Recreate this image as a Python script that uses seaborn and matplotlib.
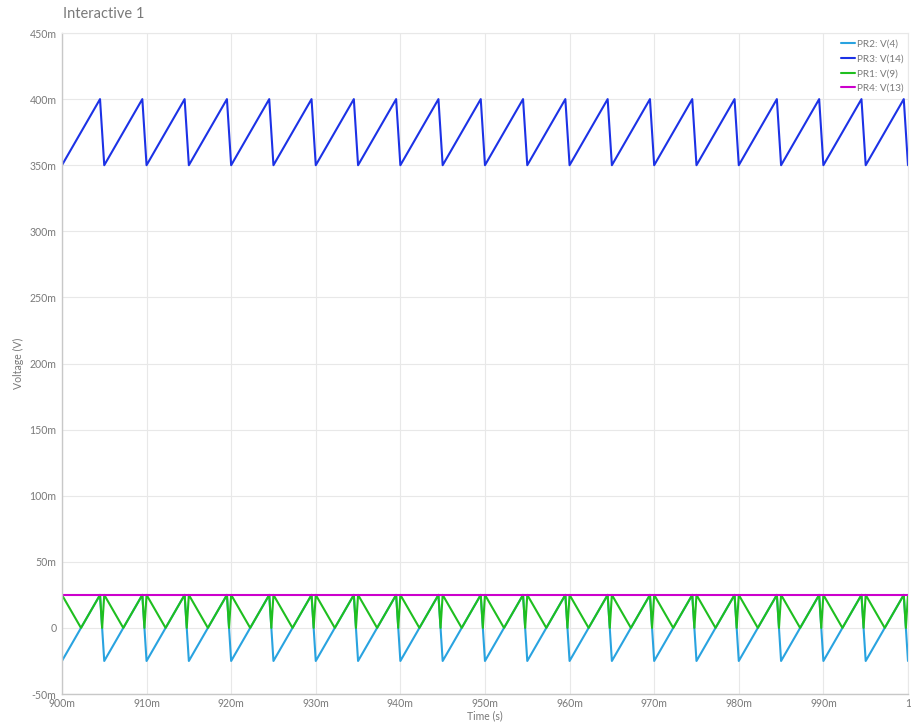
import pandas as pd
import matplotlib.pyplot as plt
import seaborn as sns

# Time axis in ms, voltages in mV
t_saw = [900, 904.5, 905, 909.5, 910, 914.5, 915, 919.5, 920, 924.5,
         925, 929.5, 930, 934.5, 935, 939.5, 940, 944.5, 945, 949.5,
         950, 954.5, 955, 959.5, 960, 964.5, 965, 969.5, 970, 974.5,
         975, 979.5, 980, 984.5, 985, 989.5, 990, 994.5, 995, 999.5, 1000]
pr3_v14 = [350, 400, 350, 400, 350, 400, 350, 400, 350, 400,
           350, 400, 350, 400, 350, 400, 350, 400, 350, 400,
           350, 400, 350, 400, 350, 400, 350, 400, 350, 400,
           350, 400, 350, 400, 350, 400, 350, 400, 350, 400, 350]
pr2_v4 = [-25, 25, -25, 25, -25, 25, -25, 25, -25, 25,
          -25, 25, -25, 25, -25, 25, -25, 25, -25, 25,
          -25, 25, -25, 25, -25, 25, -25, 25, -25, 25,
          -25, 25, -25, 25, -25, 25, -25, 25, -25, 25, -25]

t_rect = [900, 902.25, 904.5, 904.75, 905, 907.25, 909.5, 909.75,
          910, 912.25, 914.5, 914.75, 915, 917.25, 919.5, 919.75,
          920, 922.25, 924.5, 924.75, 925, 927.25, 929.5, 929.75,
          930, 932.25, 934.5, 934.75, 935, 937.25, 939.5, 939.75,
          940, 942.25, 944.5, 944.75, 945, 947.25, 949.5, 949.75,
          950, 952.25, 954.5, 954.75, 955, 957.25, 959.5, 959.75,
          960, 962.25, 964.5, 964.75, 965, 967.25, 969.5, 969.75,
          970, 972.25, 974.5, 974.75, 975, 977.25, 979.5, 979.75,
          980, 982.25, 984.5, 984.75, 985, 987.25, 989.5, 989.75,
          990, 992.25, 994.5, 994.75, 995, 997.25, 999.5, 999.75, 1000]
pr1_v9 = [25, 0, 25, 0, 25, 0, 25, 0,
          25, 0, 25, 0, 25, 0, 25, 0,
          25, 0, 25, 0, 25, 0, 25, 0,
          25, 0, 25, 0, 25, 0, 25, 0,
          25, 0, 25, 0, 25, 0, 25, 0,
          25, 0, 25, 0, 25, 0, 25, 0,
          25, 0, 25, 0, 25, 0, 25, 0,
          25, 0, 25, 0, 25, 0, 25, 0,
          25, 0, 25, 0, 25, 0, 25, 0,
          25, 0, 25, 0, 25, 0, 25, 0, 25]

t_dc = [900, 1000]
pr4_v13 = [25, 25]

names = ['PR2: V(4)', 'PR3: V(14)', 'PR1: V(9)', 'PR4: V(13)']
colors = ['#29a3e0', '#1c32e6', '#1fbf1f', '#cc00cc']

x_ticks = [900, 910, 920, 930, 940, 950, 960, 970, 980, 990, 1000]
x_tick_labels = ['900m', '910m', '920m', '930m', '940m', '950m', '960m', '970m', '980m', '990m', '1']
y_ticks = [-50, 0, 50, 100, 150, 200, 250, 300, 350, 400, 450]
y_tick_labels = ['-50m', '0', '50m', '100m', '150m', '200m', '250m', '300m', '350m', '400m', '450m']

df = pd.concat([
    pd.DataFrame({'t': t_saw, 'v': pr2_v4, 'probe': names[0]}),
    pd.DataFrame({'t': t_saw, 'v': pr3_v14, 'probe': names[1]}),
    pd.DataFrame({'t': t_rect, 'v': pr1_v9, 'probe': names[2]}),
    pd.DataFrame({'t': t_dc, 'v': pr4_v13, 'probe': names[3]}),
], ignore_index=True)

sns.set_style('white')
plt.rcParams['font.family'] = ['Lato', 'DejaVu Sans']

fig = plt.figure(figsize=(9.11, 7.24), dpi=100)
ax = fig.add_axes([0.068, 0.0414, 0.9287, 0.913])

sns.lineplot(data=df, x='t', y='v', hue='probe', hue_order=names,
             palette=dict(zip(names, colors)), estimator=None, sort=False,
             linewidth=1.5, ax=ax)

ax.set_xlim(900, 1000)
ax.set_ylim(-50, 450)
ax.set_xticks(x_ticks)
ax.set_xticklabels(x_tick_labels)
ax.set_yticks(y_ticks)
ax.set_yticklabels(y_tick_labels)
ax.tick_params(length=0, labelsize=7.6, colors='#7a7a7a')
ax.tick_params(axis='x', pad=3)
ax.tick_params(axis='y', pad=4)
ax.grid(True, color='#e8e8e8', linewidth=0.8)
ax.set_axisbelow(True)
for s in ['top', 'right']:
    ax.spines[s].set_color('#e8e8e8')
    ax.spines[s].set_linewidth(0.8)
for s in ['left', 'bottom']:
    ax.spines[s].set_color('#c8c8c8')
    ax.spines[s].set_linewidth(1.0)

ax.set_xlabel('Time (s)', fontsize=7.6, color='#7a7a7a', labelpad=1)
ax.set_ylabel('Voltage (V)', fontsize=7.6, color='#7a7a7a', labelpad=4)
fig.text(0.069, 0.981, 'Interactive 1', fontsize=10.5, color='#7a7a7a', va='center', ha='left')

ax.legend(loc='upper right', bbox_to_anchor=(1.0, 0.997), frameon=False,
          fontsize=7.2, labelcolor='#7a7a7a', handlelength=1.4,
          handletextpad=0.2, labelspacing=0.58, borderaxespad=0.15,
          borderpad=0.3)

fig.savefig('out.png', dpi=100)
